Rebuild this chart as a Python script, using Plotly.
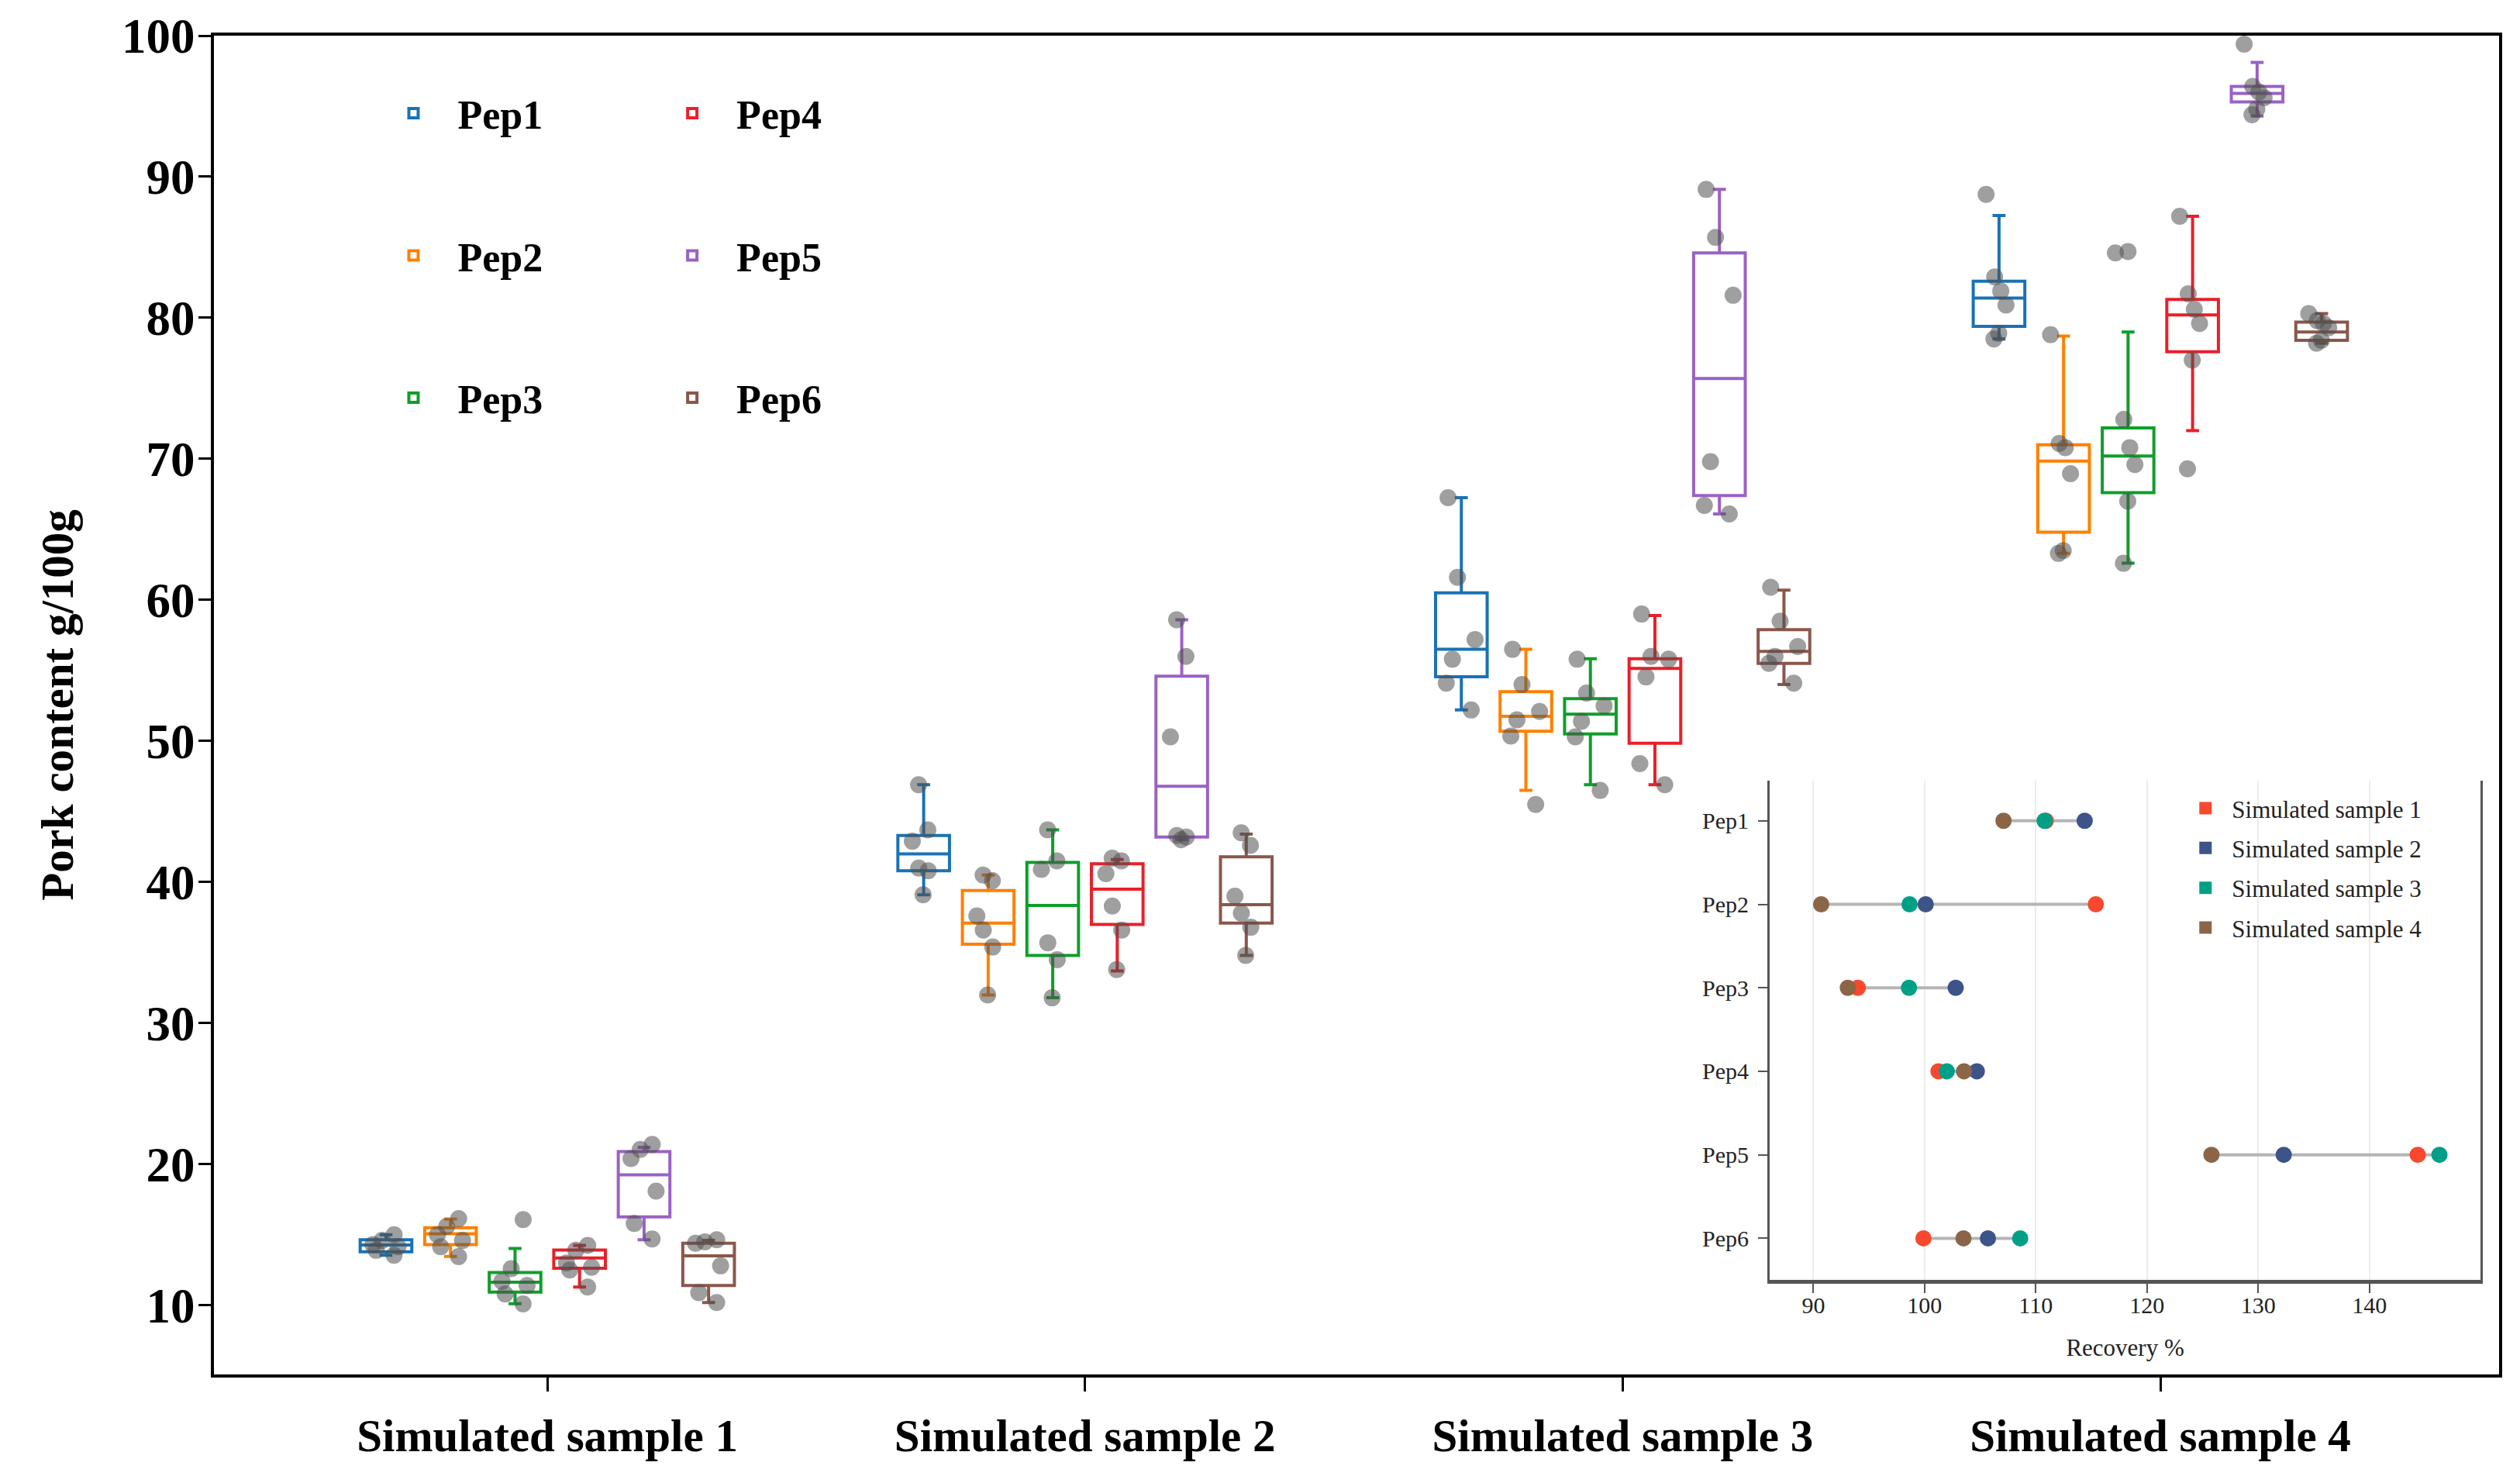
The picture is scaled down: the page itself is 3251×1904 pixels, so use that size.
import numpy as np
import plotly.graph_objects as go

SAMPLES = ["Simulated sample 1", "Simulated sample 2", "Simulated sample 3", "Simulated sample 4"]
PEPTIDES = ["Pep1", "Pep2", "Pep3", "Pep4", "Pep5", "Pep6"]
PEP_COLORS = ["#1a72b5", "#ff8000", "#0f9e2a", "#e8202a", "#9a62c4", "#8c564b"]

# ---- Pork content (g/100g): replicate points + box statistics, per sample ----
PEP1_POINTS = [[15.0, 14.6, 14.3, 14.15, 13.9, 13.55],
               [46.9, 43.7, 42.9, 41.0, 40.8, 39.1],
               [67.25, 61.6, 57.2, 55.8, 54.1, 52.2],
               [88.75, 82.9, 81.9, 80.9, 78.9, 78.5]]
PEP1_Q1 = [13.79, 40.8, 54.55, 79.4]
PEP1_MED = [14.28, 42.0, 56.5, 81.4]
PEP1_Q3 = [14.65, 43.3, 60.5, 82.6]
PEP1_LOW = [13.55, 39.1, 52.2, 78.5]
PEP1_HIGH = [15.0, 46.9, 67.25, 87.25]

PEP2_POINTS = [[16.15, 15.6, 15.0, 14.6, 14.15, 13.45],
               [40.5, 40.1, 37.6, 36.6, 35.4, 32.0],
               [56.5, 54.0, 52.1, 51.5, 50.35, 45.5],
               [78.8, 71.1, 70.8, 68.95, 63.5, 63.3]]
PEP2_Q1 = [14.3, 35.6, 50.7, 64.8]
PEP2_MED = [15.07, 37.1, 51.75, 69.85]
PEP2_Q3 = [15.5, 39.4, 53.5, 71.0]
PEP2_LOW = [13.47, 32.0, 46.5, 63.3]
PEP2_HIGH = [16.12, 40.5, 56.5, 78.7]

PEP3_POINTS = [[16.08, 12.6, 11.7, 11.4, 10.8, 10.1],
               [43.7, 41.5, 40.9, 35.7, 34.5, 31.8],
               [55.8, 53.4, 52.5, 51.4, 50.3, 46.5],
               [84.7, 84.6, 72.8, 70.8, 69.6, 67.0, 62.6]]
PEP3_Q1 = [10.94, 34.8, 50.5, 67.6]
PEP3_MED = [11.64, 38.35, 51.9, 70.2]
PEP3_Q3 = [12.32, 41.4, 53.0, 72.2]
PEP3_LOW = [10.11, 31.8, 46.9, 62.6]
PEP3_HIGH = [14.03, 43.7, 55.84, 79.0]

PEP4_POINTS = [[14.25, 13.9, 13.0, 12.7, 12.5, 11.3],
               [41.7, 41.5, 40.6, 38.3, 36.6, 33.8],
               [59.0, 56.0, 55.8, 54.55, 48.4, 46.9],
               [87.2, 81.7, 80.6, 79.6, 77.0, 69.3]]
PEP4_Q1 = [12.63, 37.0, 49.84, 77.6]
PEP4_MED = [13.36, 39.5, 55.14, 80.2]
PEP4_Q3 = [13.92, 41.3, 55.84, 81.3]
PEP4_LOW = [11.3, 33.7, 46.9, 72.0]
PEP4_HIGH = [14.25, 41.6, 58.9, 87.2]

PEP5_POINTS = [[21.4, 21.05, 20.4, 18.1, 15.8, 14.7],
               [58.6, 56.0, 50.3, 43.3, 43.2, 43.0],
               [89.1, 85.7, 81.6, 69.8, 66.7, 66.1],
               [99.4, 96.4, 96.0, 95.6, 94.8, 94.4]]
PEP5_Q1 = [16.27, 43.2, 67.4, 95.3]
PEP5_MED = [19.25, 46.8, 75.7, 95.9]
PEP5_Q3 = [20.9, 54.6, 84.6, 96.4]
PEP5_LOW = [14.65, 43.0, 66.1, 94.3]
PEP5_HIGH = [21.2, 58.6, 89.1, 98.1]

PEP6_POINTS = [[14.65, 14.5, 14.4, 12.8, 10.9, 10.2],
               [43.5, 42.6, 39.0, 37.8, 36.8, 34.8],
               [60.9, 58.5, 56.7, 56.0, 55.5, 54.1],
               [80.3, 79.8, 79.6, 79.3, 78.4, 78.2]]
PEP6_Q1 = [11.4, 37.1, 55.5, 78.4]
PEP6_MED = [13.51, 38.4, 56.36, 79.0]
PEP6_Q3 = [14.4, 41.8, 57.9, 79.7]
PEP6_LOW = [10.2, 34.8, 54.0, 78.2]
PEP6_HIGH = [14.61, 43.4, 60.7, 80.3]

# ---- Inset: recovery % per peptide (Pep1..Pep6) ----
RECOVERY_S1 = [110.9, 115.4, 94.0, 101.25, 144.35, 99.9]
RECOVERY_S2 = [114.4, 100.1, 102.8, 104.7, 132.3, 105.7]
RECOVERY_S3 = [110.8, 98.65, 98.6, 102.0, 146.3, 108.6]
RECOVERY_S4 = [107.1, 90.7, 93.1, 103.55, 125.8, 103.5]
RECOVERY_COLORS = ["#f8482f", "#3c5488", "#00a087", "#8b6548"]
RECOVERY_TICKS = [90, 100, 110, 120, 130, 140]
CONTENT_TICKS = [10, 20, 30, 40, 50, 60, 70, 80, 90, 100]

SERIF = "Liberation Serif, Times New Roman, serif"

box_data = [
    (PEP1_POINTS, PEP1_Q1, PEP1_MED, PEP1_Q3, PEP1_LOW, PEP1_HIGH),
    (PEP2_POINTS, PEP2_Q1, PEP2_MED, PEP2_Q3, PEP2_LOW, PEP2_HIGH),
    (PEP3_POINTS, PEP3_Q1, PEP3_MED, PEP3_Q3, PEP3_LOW, PEP3_HIGH),
    (PEP4_POINTS, PEP4_Q1, PEP4_MED, PEP4_Q3, PEP4_LOW, PEP4_HIGH),
    (PEP5_POINTS, PEP5_Q1, PEP5_MED, PEP5_Q3, PEP5_LOW, PEP5_HIGH),
    (PEP6_POINTS, PEP6_Q1, PEP6_MED, PEP6_Q3, PEP6_LOW, PEP6_HIGH),
]

fig = go.Figure()
for i, (name, color) in enumerate(zip(PEPTIDES, PEP_COLORS)):
    pts, q1, med, q3, low, high = box_data[i]
    fig.add_trace(go.Box(
        name=name, x=SAMPLES, y=pts,
        q1=q1, median=med, q3=q3, lowerfence=low, upperfence=high,
        boxpoints="all", jitter=0.6, pointpos=0,
        marker=dict(color="rgba(80,80,80,0.55)", size=22, line=dict(width=0)),
        line=dict(color=color, width=4), fillcolor="rgba(255,255,255,0)",
        whiskerwidth=0.25,
        legend="legend" if i < 3 else "legend2", legendgroup=name,
        xaxis="x", yaxis="y", hoverinfo="skip",
    ))

# inset: grey range line per peptide
rec = np.array([RECOVERY_S1, RECOVERY_S2, RECOVERY_S3, RECOVERY_S4])
lx, ly = [], []
for j, pep in enumerate(PEPTIDES):
    lx += [rec[:, j].min(), rec[:, j].max(), None]
    ly += [pep, pep, None]
fig.add_trace(go.Scatter(x=lx, y=ly, mode="lines", line=dict(color="#b5b5b5", width=4),
                         xaxis="x2", yaxis="y2", showlegend=False, hoverinfo="skip"))

for k, (vals, col) in enumerate(zip([RECOVERY_S1, RECOVERY_S2, RECOVERY_S3, RECOVERY_S4], RECOVERY_COLORS)):
    fig.add_trace(go.Scatter(x=vals, y=PEPTIDES, mode="markers",
                             marker=dict(color=col, size=21, line=dict(width=0)),
                             xaxis="x2", yaxis="y2", showlegend=False, hoverinfo="skip"))
    fig.add_trace(go.Scatter(x=[None], y=[None], mode="markers", name=SAMPLES[k],
                             marker=dict(color=col, size=16, symbol="square"),
                             xaxis="x2", yaxis="y2", legend="legend3", legendgroup=SAMPLES[k]))

legend_common = dict(bgcolor="rgba(0,0,0,0)", xanchor="left", yanchor="top",
                     font=dict(family=SERIF, size=52, color="black", weight=700),
                     tracegroupgap=113, itemwidth=104)

fig.update_layout(
    width=3251, height=1904,
    margin=dict(l=276, r=27, t=41, b=131),
    paper_bgcolor="white", plot_bgcolor="white",
    boxmode="group", boxgap=0.28, boxgroupgap=0.2,
    font=dict(family=SERIF, color="black"),
    xaxis=dict(domain=[0, 1], range=[-0.62, 3.63], type="category",
               categoryorder="array", categoryarray=SAMPLES,
               showline=True, mirror=True, linecolor="black", linewidth=4,
               ticks="outside", ticklen=18, tickwidth=3, tickcolor="black",
               tickfont=dict(family=SERIF, size=59, color="black", weight=700),
               ticklabelstandoff=6, showgrid=False, zeroline=False),
    yaxis=dict(domain=[0, 1], range=[5.1, 100], tickvals=CONTENT_TICKS,
               showline=True, mirror=True, linecolor="black", linewidth=4,
               ticks="outside", ticklen=16, tickwidth=3, tickcolor="black",
               tickfont=dict(family=SERIF, size=63, color="black", weight=700),
               ticklabelstandoff=-8, showgrid=False, zeroline=False,
               title=dict(text="Pork content g/100g", standoff=44,
                          font=dict(family=SERIF, size=59, color="black", weight=700))),
    xaxis2=dict(domain=[0.6808, 0.9919], anchor="y2", range=[86.07, 150],
                tickvals=RECOVERY_TICKS, showgrid=True, gridcolor="#ececec", gridwidth=2,
                showline=True, linecolor="#555555", linewidth=5,
                ticks="outside", ticklen=12, tickwidth=2, tickcolor="#555555",
                tickfont=dict(family=SERIF, size=30, color="#222222"),
                ticklabelstandoff=-10, zeroline=False,
                title=dict(text="Recovery %", standoff=30,
                           font=dict(family=SERIF, size=31, color="#222222"))),
    yaxis2=dict(domain=[0.0705, 0.4435], anchor="x2", type="category",
                categoryorder="array", categoryarray=PEPTIDES, range=[5.5, -0.48],
                showline=True, mirror=True, linecolor="#555555", linewidth=3,
                ticks="outside", ticklen=12, tickwidth=2, tickcolor="#555555",
                tickfont=dict(family=SERIF, size=30, color="#222222"),
                ticklabelstandoff=6, showgrid=False, zeroline=False),
    legend=dict(x=0.068, y=0.9655, **legend_common),
    legend2=dict(x=0.19, y=0.9655, **legend_common),
    legend3=dict(x=0.86, y=0.4384, xanchor="left", yanchor="top", bgcolor="rgba(0,0,0,0)",
                 font=dict(family=SERIF, size=31, color="#222222"), tracegroupgap=8,
                 itemwidth=58),
    showlegend=True,
)

fig.write_html("out.html", config={"displayModeBar": False},
               post_script="document.body.style.margin='0';document.body.style.overflow='hidden';")
